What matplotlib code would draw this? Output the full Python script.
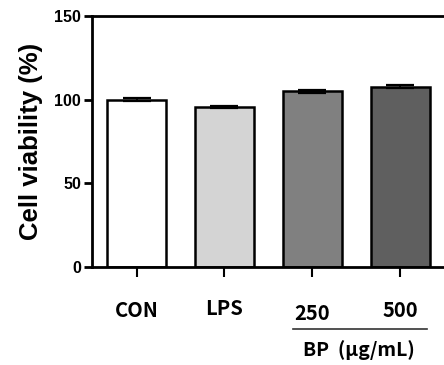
import numpy as np
import matplotlib.pyplot as plt
import matplotlib.transforms as mtransforms

groups = ['CON', 'LPS', '250', '500']
viability = [100.0, 95.6, 105.0, 107.8]
sem = [0.8, 0.8, 0.9, 0.7]
colors = ['#ffffff', '#d4d4d4', '#808080', '#5f5f5f']

plt.rcParams['font.family'] = ['Liberation Sans', 'DejaVu Sans']

fig = plt.figure(figsize=(4.44, 3.65), dpi=100)
ax = fig.add_axes([92 / 444, 1 - 267 / 365, 353 / 444, 251 / 365])

x = np.arange(len(groups))
ax.bar(x, viability, width=0.67, color=colors, edgecolor='black', linewidth=1.8, zorder=2)
ax.errorbar(x, viability, yerr=sem, fmt='none', ecolor='black', elinewidth=1.2,
            capsize=10, capthick=1.6, zorder=3)

ax.set_xlim(-0.508, 3.51)
ax.set_ylim(0, 150)
ax.set_yticks([0, 50, 100, 150])
ax.set_yticklabels(['0', '50', '100', '150'], fontsize=11.5, fontweight='bold')
ax.set_ylabel('Cell viability (%)', fontsize=18.5, fontweight='bold', labelpad=8)

for s in ax.spines.values():
    s.set_linewidth(2)
ax.tick_params(axis='y', length=6, width=2, pad=2)
ax.tick_params(axis='x', length=7, width=1.5, pad=17)
ax.set_xticks(x)
ax.set_xticklabels(groups, fontsize=14.5, fontweight='bold', family=['Noto Sans CJK KR', 'DejaVu Sans'])

# small vertical nudges, as in the original layout
shifts = [0, 2, -3, 0]
for lab, dy in zip(ax.get_xticklabels(), shifts):
    lab.set_transform(lab.get_transform() + mtransforms.ScaledTranslation(0, dy / 100, fig.dpi_scale_trans))

trans = mtransforms.blended_transform_factory(ax.transData, ax.transAxes)
ax.plot([1.776, 3.30], [-0.247, -0.247], color='#333333', linewidth=1.2,
        transform=trans, clip_on=False)
ax.text(2.53, -0.33, 'BP  (μg/mL)', transform=trans, ha='center', va='center',
        fontsize=14, fontweight='bold', family=['Noto Sans CJK KR', 'DejaVu Sans'])

fig.savefig('out.png', dpi=100)
